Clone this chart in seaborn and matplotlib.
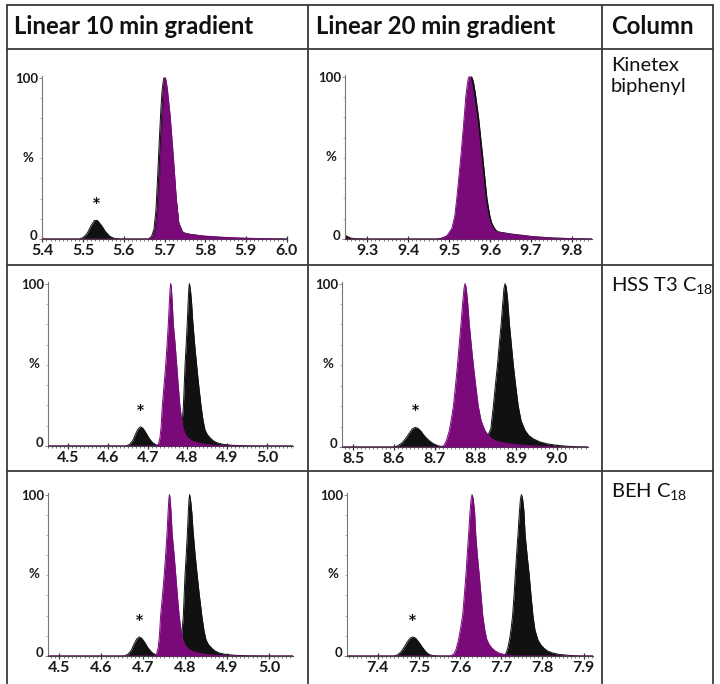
"""Chromatogram table: three LC columns x two linear gradients (10 and 20 min)."""
import numpy as np
import pandas as pd
import matplotlib
matplotlib.use("Agg")
import matplotlib.pyplot as plt
from matplotlib.lines import Line2D
from matplotlib.ticker import MultipleLocator, FormatStrFormatter
from matplotlib.transforms import ScaledTranslation
import seaborn as sns

PURPLE = "#7a0a7a"
INK = "#111111"
GRID = "#3a3a3a"

headers = ["Linear 10 min gradient", "Linear 20 min gradient", "Column"]
columns = ["Kinetex\nbiphenyl", "HSS T3 C$_{18}$", "BEH C$_{18}$"]

# ---- traces: retention time (min) / relative intensity (%) ----
# Kinetex biphenyl, 10 min
kin10_xlim = [5.399, 6.001]
kin10_black_t = [5.40, 5.49, 5.50, 5.51, 5.52, 5.528, 5.535, 5.545, 5.555, 5.565, 5.575, 5.59,
                 5.66, 5.668, 5.674, 5.679, 5.683, 5.687, 5.691, 5.694, 5.697, 5.699, 5.701, 5.704,
                 5.71, 5.72, 5.728, 5.735, 5.745, 5.76, 5.80, 5.85, 5.90, 5.95, 6.00]
kin10_black_i = [0, 0, 0.8, 3.5, 8.5, 11.5, 11.5, 8.5, 4.5, 1.8, 0.5, 0,
                 0, 1.5, 6, 18, 38, 60, 80, 92, 98, 100, 99, 95,
                 80, 52, 26, 10, 4, 3, 1.6, 0.8, 0.3, 0.1, 0]
kin10_purple_t = [5.40, 5.66, 5.672, 5.678, 5.683, 5.687, 5.691, 5.695, 5.698, 5.700, 5.702, 5.704,
                  5.707, 5.714, 5.722, 5.729, 5.735, 5.742, 5.75, 5.77, 5.80, 5.85, 5.90, 5.95, 6.00]
kin10_purple_i = [0, 0, 1, 5, 16, 34, 56, 78, 92, 98, 100, 98,
                  93, 76, 50, 25, 10, 5, 3.5, 2.6, 1.8, 1.0, 0.5, 0.2, 0]
kin10_star = [5.532, 11.8]

# Kinetex biphenyl, 20 min
kin20_xlim = [9.246, 9.849]
kin20_black_t = [9.246, 9.252, 9.26, 9.27, 9.30, 9.47, 9.485, 9.498, 9.51, 9.517, 9.522, 9.527,
                 9.532, 9.536, 9.540, 9.545, 9.549, 9.552, 9.5545, 9.557, 9.560, 9.564, 9.572,
                 9.5825, 9.5925, 9.599, 9.604, 9.610, 9.616, 9.624, 9.654, 9.704, 9.754, 9.804, 9.849]
kin20_black_i = [2.5, 1.5, 0.6, 0.2, 0, 0, 0.5, 2, 6.5, 14, 25, 38,
                 50, 63, 75, 88, 95, 99, 100, 99, 96, 90, 75,
                 50, 25, 15, 10, 7, 5, 4.2, 3, 1.5, 0.6, 0.2, 0]
kin20_purple_t = [9.246, 9.47, 9.482, 9.495, 9.507, 9.514, 9.519, 9.524, 9.5285, 9.533, 9.537,
                  9.541, 9.5445, 9.547, 9.5496, 9.552, 9.555, 9.559, 9.5675, 9.578, 9.588, 9.595,
                  9.600, 9.606, 9.612, 9.62, 9.65, 9.70, 9.75, 9.80, 9.849]
kin20_purple_i = [0, 0, 0.5, 2, 6.5, 14, 25, 38, 50, 63, 75,
                  88, 95, 99, 100, 99, 96, 90, 75, 50, 25, 15,
                  10, 7, 5, 4.2, 3, 1.5, 0.6, 0.2, 0]
kin20_star = None

# HSS T3 C18, 10 min
hss10_xlim = [4.45, 5.065]
hss10_black_t = [4.45, 4.645, 4.655, 4.663, 4.670, 4.676, 4.682, 4.688, 4.695, 4.703, 4.712, 4.722,
                 4.735, 4.76, 4.772, 4.78, 4.786, 4.790, 4.794, 4.797, 4.800, 4.802, 4.8035, 4.805,
                 4.8065, 4.808, 4.8105, 4.813, 4.818, 4.823, 4.828, 4.834, 4.839, 4.844, 4.850,
                 4.857, 4.865, 4.874, 4.89, 4.915, 4.95, 5.0, 5.065]
hss10_black_i = [0, 0, 1, 3.5, 7.5, 10.5, 11.8, 11, 8.5, 5, 2.2, 0.6,
                 0, 0, 2, 5, 12, 25, 50, 63, 78, 90, 97, 100,
                 98, 95, 88, 78, 63, 50, 38, 25, 16, 10, 7,
                 5, 3.2, 2, 1, 0.4, 0.1, 0, 0]
hss10_purple_t = [4.45, 4.72, 4.727, 4.731, 4.734, 4.737, 4.7415, 4.7455, 4.749, 4.752, 4.7545,
                  4.7565, 4.758, 4.7595, 4.7615, 4.7646, 4.769, 4.773, 4.777, 4.781, 4.785, 4.790,
                  4.796, 4.803, 4.812, 4.825, 4.845, 4.87, 4.9, 4.93, 5.065]
hss10_purple_i = [0, 0, 1, 5, 12, 25, 38, 50, 63, 75, 88,
                  97, 100, 98, 90, 75, 63, 50, 37, 25, 17, 10,
                  6.5, 4.5, 3, 2, 1, 0.4, 0.1, 0, 0]
hss10_star = [4.682, 11.8]

# HSS T3 C18, 20 min
hss20_xlim = [8.473, 9.076]
hss20_black_t = [8.473, 8.60, 8.61, 8.62, 8.630, 8.638, 8.645, 8.652, 8.659, 8.667, 8.676, 8.686,
                 8.697, 8.708, 8.72, 8.735, 8.80, 8.815, 8.826, 8.834, 8.8376, 8.844, 8.849, 8.854,
                 8.8585, 8.863, 8.867, 8.870, 8.8727, 8.8755, 8.879, 8.8834, 8.888, 8.893, 8.899,
                 8.905, 8.912, 8.922, 8.931, 8.942, 8.957, 8.975, 9.0, 9.024, 9.05, 9.076]
hss20_black_i = [0, 0, 0.8, 2.5, 5.5, 8.5, 11, 12, 11.5, 9.5, 6.5, 4,
                 2, 0.8, 0.2, 0, 0, 2, 5, 9, 11, 25, 38, 50,
                 63, 75, 88, 97, 100, 98, 90, 75, 63, 50, 37,
                 25, 16, 10, 7, 5, 3.2, 2, 1, 0.5, 0.15, 0]
hss20_purple_t = [8.473, 8.715, 8.723, 8.729, 8.736, 8.741, 8.746, 8.751, 8.756, 8.760, 8.7646,
                  8.769, 8.772, 8.7745, 8.777, 8.7805, 8.785, 8.790, 8.795, 8.801, 8.807, 8.814,
                  8.8236, 8.832, 8.840, 8.85, 8.86, 8.88, 8.90, 8.93, 8.959, 8.99, 9.02, 9.076]
hss20_purple_i = [0, 0, 1, 4, 10, 17, 25, 37, 50, 62, 75,
                  89, 97, 100, 98, 90, 75, 62, 50, 37, 25, 16,
                  10, 7, 5, 3.8, 3, 2.1, 1.5, 0.9, 0.5, 0.15, 0, 0]
hss20_star = [8.652, 12.0]

# BEH C18, 10 min
beh10_xlim = [4.473, 5.056]
beh10_black_t = [4.473, 4.653, 4.663, 4.671, 4.678, 4.684, 4.690, 4.696, 4.703, 4.711, 4.720, 4.730,
                 4.743, 4.765, 4.777, 4.785, 4.791, 4.795, 4.799, 4.802, 4.805, 4.807, 4.8085, 4.810,
                 4.8115, 4.813, 4.8155, 4.818, 4.823, 4.828, 4.833, 4.839, 4.844, 4.849, 4.855,
                 4.862, 4.870, 4.879, 4.895, 4.92, 4.955, 5.0, 5.056]
beh10_black_i = [0, 0, 1, 3.5, 7.5, 10.5, 11.8, 11, 8.5, 5, 2.2, 0.6,
                 0, 0, 2, 5, 12, 25, 50, 63, 78, 90, 97, 100,
                 98, 95, 88, 78, 63, 50, 38, 25, 16, 10, 7,
                 5, 3.2, 2, 1, 0.4, 0.1, 0, 0]
beh10_purple_t = [4.473, 4.724, 4.731, 4.735, 4.738, 4.741, 4.7455, 4.7495, 4.753, 4.756, 4.7585,
                  4.7605, 4.762, 4.7635, 4.7655, 4.7686, 4.773, 4.777, 4.781, 4.785, 4.789, 4.794,
                  4.800, 4.807, 4.816, 4.829, 4.849, 4.874, 4.904, 4.934, 5.056]
beh10_purple_i = [0, 0, 1, 5, 12, 25, 38, 50, 63, 75, 88,
                  97, 100, 98, 90, 75, 63, 50, 37, 25, 17, 10,
                  6.5, 4.5, 3, 2, 1, 0.4, 0.1, 0, 0]
beh10_star = [4.690, 11.8]

# BEH C18, 20 min
beh20_xlim = [7.325, 7.923]
beh20_black_t = [7.325, 7.44, 7.448, 7.456, 7.464, 7.471, 7.478, 7.485, 7.492, 7.500, 7.508, 7.516,
                 7.524, 7.535, 7.55, 7.70, 7.71, 7.715, 7.720, 7.724, 7.7275, 7.731, 7.734, 7.737,
                 7.7405, 7.744, 7.7465, 7.749, 7.7515, 7.755, 7.758, 7.763, 7.768, 7.7725, 7.777,
                 7.782, 7.789, 7.796, 7.803, 7.812, 7.823, 7.84, 7.86, 7.88, 7.90, 7.923]
beh20_black_i = [0, 0, 0.8, 2.5, 5.5, 8.5, 11, 11.8, 11, 8.5, 5.5, 2.8,
                 1, 0.2, 0, 0, 1, 4, 10, 17, 25, 37, 50, 62,
                 75, 89, 97, 100, 98, 90, 75, 62, 50, 37, 25,
                 16, 10, 7, 5, 3.2, 2, 1, 0.5, 0.15, 0, 0]
beh20_purple_t = [7.325, 7.575, 7.584, 7.590, 7.596, 7.601, 7.606, 7.610, 7.614, 7.617, 7.6205,
                  7.624, 7.6265, 7.629, 7.6315, 7.635, 7.638, 7.642, 7.6465, 7.651, 7.655, 7.660,
                  7.665, 7.671, 7.677, 7.685, 7.693, 7.70, 7.714, 7.73, 7.75, 7.923]
beh20_purple_i = [0, 0, 1, 4, 10, 17, 25, 37, 50, 62, 75,
                  89, 97, 100, 98, 90, 75, 62, 50, 37, 25, 16,
                  10, 7, 5, 3.2, 2, 1.4, 0.5, 0.15, 0, 0]
beh20_star = [7.485, 11.8]

panels = [
    (kin10_xlim, kin10_black_t, kin10_black_i, kin10_purple_t, kin10_purple_i, kin10_star),
    (kin20_xlim, kin20_black_t, kin20_black_i, kin20_purple_t, kin20_purple_i, kin20_star),
    (hss10_xlim, hss10_black_t, hss10_black_i, hss10_purple_t, hss10_purple_i, hss10_star),
    (hss20_xlim, hss20_black_t, hss20_black_i, hss20_purple_t, hss20_purple_i, hss20_star),
    (beh10_xlim, beh10_black_t, beh10_black_i, beh10_purple_t, beh10_purple_i, beh10_star),
    (beh20_xlim, beh20_black_t, beh20_black_i, beh20_purple_t, beh20_purple_i, beh20_star),
]

# axes boxes in pixels: left, right, top, bottom
boxes = [(42, 287, 76, 239), (345, 592, 75, 239),
         (48, 293, 282, 446), (342, 588, 282, 447),
         (48, 293, 493, 656), (347, 593, 493, 656)]

sns.set_theme(style="white")
plt.rcParams["font.family"] = ["Lato", "DejaVu Sans"]
plt.rcParams["mathtext.fontset"] = "custom"
plt.rcParams["mathtext.rm"] = "Lato"
plt.rcParams["mathtext.it"] = "Lato:italic"
plt.rcParams["mathtext.bf"] = "Lato:bold"

W, H = 720, 684
fig = plt.figure(figsize=(W / 100, H / 100), dpi=100)
fig.patch.set_facecolor("white")


def px(x, y):
    return x / W, 1 - y / H


def trace(ax, t, i, color):
    d = pd.DataFrame({"t": t, "i": i})
    z = 2 if color == INK else 3
    ax.fill_between(d["t"], d["i"], color=color, lw=0, zorder=z)
    sns.lineplot(data=d, x="t", y="i", color=color, lw=0.7, estimator=None, sort=False,
                 ax=ax, zorder=z)


for (xlim, bt, bi, pt, pi, star), (l, r, t, b) in zip(panels, boxes):
    x0, y0 = px(l, b)
    x1, y1 = px(r, t)
    ax = fig.add_axes([x0, y0, x1 - x0, y1 - y0])
    trace(ax, bt, bi, INK)
    trace(ax, pt, pi, PURPLE)
    if star:
        ax.text(star[0], star[1] + 2, "*", ha="center", va="bottom", fontsize=15,
                fontweight="bold", color=INK)
    ax.set_xlim(xlim)
    ax.set_ylim(0, 101)
    ax.set_xlabel(""); ax.set_ylabel("")
    for s in ["top", "right"]:
        ax.spines[s].set_visible(False)
    ax.spines["left"].set_color("#777777"); ax.spines["left"].set_linewidth(0.8)
    ax.spines["bottom"].set_color("#444444"); ax.spines["bottom"].set_linewidth(0.8)
    ax.set_facecolor("none")
    ax.xaxis.set_major_locator(MultipleLocator(0.1))
    ax.xaxis.set_minor_locator(MultipleLocator(0.01))
    ax.xaxis.set_major_formatter(FormatStrFormatter("%.1f"))
    ax.yaxis.set_minor_locator(MultipleLocator(12.5))
    ax.set_yticks([0, 100], ["0", "100"])
    ax.tick_params(axis="x", which="major", direction="inout", length=4, width=0.9,
                   color="#333333", labelsize=11.5, pad=1.5, bottom=True)
    ax.tick_params(axis="x", which="minor", direction="out", length=1.5, width=0.6,
                   color="#666666", bottom=True)
    ax.tick_params(axis="y", which="major", direction="out", length=2, width=0.6,
                   color="#777777", labelsize=9.5, pad=1, left=True)
    ax.tick_params(axis="y", which="minor", direction="out", length=1.5, width=0.5,
                   color="#999999", left=True)
    for lab in ax.get_xticklabels() + ax.get_yticklabels():
        lab.set_fontweight("bold"); lab.set_color("#1a1a1a")
    # the "0" label sits a little above the baseline, clear of the time labels
    zero_lab = ax.get_yticklabels()[0]
    zero_lab.set_transform(zero_lab.get_transform() + ScaledTranslation(0, 4 / 100, fig.dpi_scale_trans))
    ax.text(-0.035, 0.5, "%", transform=ax.transAxes, ha="right", va="center",
            fontsize=9.5, fontweight="bold", color="#1a1a1a")

# table rules
lines_px = [((7, 713), (5, 5)), ((7, 713), (49, 49)), ((7, 713), (265, 265)), ((7, 713), (471, 471)),
            ((7, 7), (5, 684)), ((308, 308), (5, 684)), ((602, 602), (5, 684)), ((713, 713), (5, 684))]
for xs, ys in lines_px:
    a = px(xs[0], ys[0]); bpt = px(xs[1], ys[1])
    fig.add_artist(Line2D([a[0], bpt[0]], [a[1], bpt[1]], transform=fig.transFigure,
                          color=GRID, lw=1.3))

# header and column names
for txt, xh in zip(headers, [14, 316, 611]):
    fig.text(*px(xh, 27), txt, ha="left", va="center", fontsize=17.2, fontweight="bold", color=INK)
for txt, yc in zip(columns, [57, 275, 481]):
    fig.text(*px(611, yc), txt, ha="left", va="top", fontsize=14.5, color=INK, linespacing=1.3)

fig.savefig("out.png", dpi=100, facecolor="white")
